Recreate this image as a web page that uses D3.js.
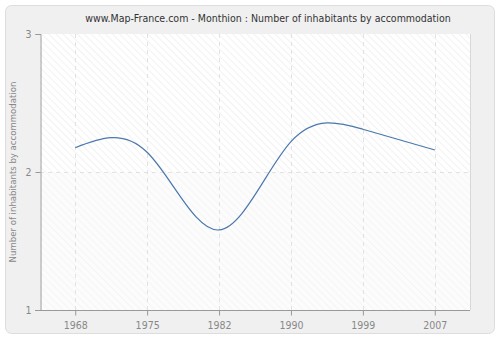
<!DOCTYPE html>
<html><head><meta charset="utf-8">
<script src="https://cdn.jsdelivr.net/npm/d3@7"></script>
<style>body{margin:0;background:#fff}svg{display:block}text{font-family:"DejaVu Sans Condensed","DejaVu Sans",sans-serif}</style>
</head><body>
<script>
const years = ["1968","1975","1982","1990","1999","2007"];
const values = [2.176, 2.143, 1.58, 2.22, 2.31, 2.16];
const yTicks = [1, 2, 3];
const title = "www.Map-France.com - Monthion : Number of inhabitants by accommodation";
const yLabel = "Number of inhabitants by accommodation";

const W = 500, H = 340;
const m = {left: 40, right: 30, top: 34, bottom: 30};
const svg = d3.select("body").append("svg").attr("width", W).attr("height", H);
const defs = svg.append("defs");
function hatch(id, bg, line){
  const p = defs.append("pattern").attr("id", id).attr("patternUnits","userSpaceOnUse")
    .attr("width", 5).attr("height", 5).attr("patternTransform","rotate(-45)");
  p.append("rect").attr("width",5).attr("height",5).attr("fill",bg);
  p.append("line").attr("x1",0).attr("y1",0).attr("x2",0).attr("y2",5).attr("stroke",line).attr("stroke-width",1.5);
}
hatch("hTop", "#ffffff", "#eeeeee");
hatch("hBot", "#fcfcfc", "#f3f3f3");

svg.append("rect").attr("x",5.5).attr("y",5.5).attr("width",489).attr("height",328)
  .attr("rx",6).attr("fill","#f0f0f0").attr("stroke","#dddddd");

const x = d3.scalePoint().domain(years).range([m.left, W - m.right]).padding(0.49);
const y = d3.scaleLinear().domain([1, 3]).range([H - m.bottom, m.top]);

svg.append("rect").attr("x", m.left).attr("y", y(3)).attr("width", W - m.right - m.left)
  .attr("height", y(2) - y(3)).attr("fill","url(#hTop)");
svg.append("rect").attr("x", m.left).attr("y", y(2)).attr("width", W - m.right - m.left)
  .attr("height", y(1) - y(2)).attr("fill","url(#hBot)");
svg.append("line").attr("x1", W - m.right + 0.5).attr("x2", W - m.right + 0.5)
  .attr("y1", y(3)).attr("y2", y(1)).attr("stroke","#d8d8d8");

const grid = svg.append("g").attr("stroke","#e2e2e2").attr("stroke-dasharray","4,4");
years.forEach(d => grid.append("line").attr("x1", Math.round(x(d))+0.5).attr("x2", Math.round(x(d))+0.5)
  .attr("y1", y(3)).attr("y2", y(1)));
[2].forEach(v => grid.append("line").attr("x1", m.left).attr("x2", W - m.right)
  .attr("y1", Math.round(y(v))+0.5).attr("y2", Math.round(y(v))+0.5));

const xAxis = svg.append("g").attr("transform", `translate(0,${y(1)+0.5})`)
  .call(d3.axisBottom(x).tickSize(5).tickPadding(6));
const yAxis = svg.append("g").attr("transform", `translate(${m.left+0.5},0)`)
  .call(d3.axisLeft(y).tickValues(yTicks).tickFormat(d3.format("d")).tickSize(5).tickPadding(4));
[xAxis, yAxis].forEach(a => {
  a.select(".domain").attr("stroke","#999");
  a.selectAll(".tick line").attr("stroke","#999");
  a.selectAll("text").attr("fill","#888").attr("font-size", 10.5)
    .style("font-family","'DejaVu Sans Condensed', 'DejaVu Sans', sans-serif");
});
xAxis.select(".domain").attr("d", `M${m.left-5},0H${W-m.right}`);

const line = d3.line().x((d,i) => x(years[i])).y(d => y(d)).curve(d3.curveNatural);
svg.append("path").datum(values).attr("d", line).attr("fill","none")
  .attr("stroke","#4a78ad").attr("stroke-width",1.2);

svg.append("text").attr("x", 268).attr("y", 22).attr("text-anchor","middle")
  .attr("font-size", 10.5).attr("fill","#333").text(title);
svg.append("text").attr("transform", `translate(16,${(y(1)+y(3))/2}) rotate(-90)`)
  .attr("text-anchor","middle").attr("font-size", 9.5).attr("fill","#888").text(yLabel);
</script>
</body></html>
